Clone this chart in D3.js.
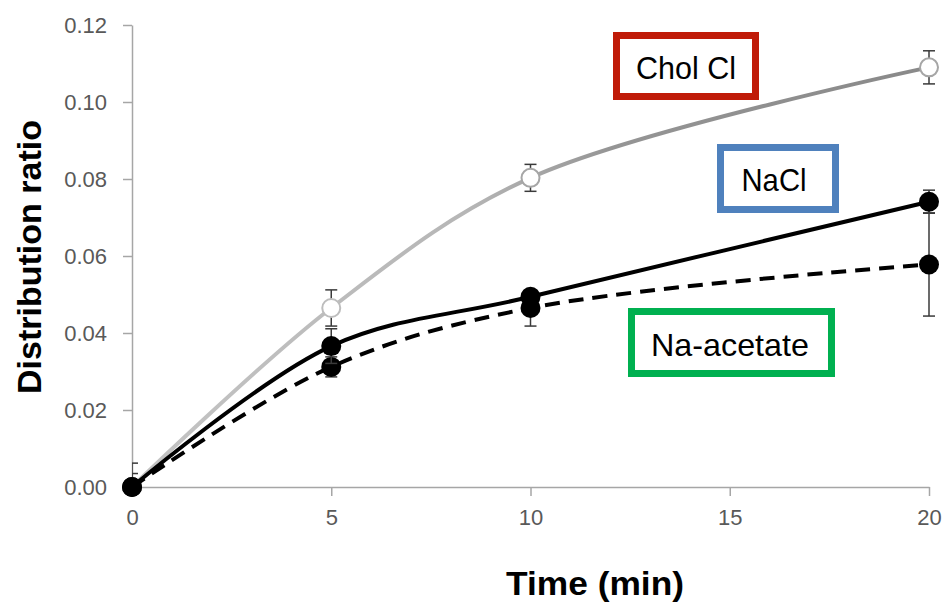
<!DOCTYPE html>
<html><head><meta charset="utf-8">
<script src="https://cdn.jsdelivr.net/npm/d3@7"></script>
<style>body{margin:0;background:#fff}</style>
</head><body>
<svg id="c" width="944" height="605"></svg>
<script>
const times = [0, 5, 10, 20];
const xTicks = [0, 5, 10, 15, 20];
const yTicks = [0, 0.02, 0.04, 0.06, 0.08, 0.10, 0.12];
const cholCl = [0, 0.0465, 0.0803, 0.1090];
const cholClErr = [0, 0.0047, 0.0035, 0.0043];
const naCl = [0, 0.0366, 0.0494, 0.0741];
const naClErr = [0.0035, 0.0045, 0.0015, 0.0030];
const naAcetate = [0, 0.0312, 0.0465, 0.0578];
const naAcetateErr = [0.0062, 0.0026, 0.0047, 0.0134];
const labels = ["Chol Cl", "NaCl", "Na-acetate"];

const svg = d3.select("#c");
const x = d3.scaleLinear().domain([0, 20]).range([132, 929]);
const y = d3.scaleLinear().domain([0, 0.12]).range([487, 25]);

const defs = svg.append("defs");
const grad = defs.append("linearGradient").attr("id", "gg")
  .attr("gradientUnits", "userSpaceOnUse")
  .attr("x1", x(0)).attr("x2", x(20)).attr("y1", 0).attr("y2", 0);
[[0, "#c4c4c4"], [0.42, "#b6b6b6"], [0.6, "#959595"], [1, "#898989"]]
  .forEach(([o, c]) => grad.append("stop").attr("offset", o).attr("stop-color", c));
defs.append("clipPath").attr("id", "plot").append("rect")
  .attr("x", 132).attr("y", 0).attr("width", 812).attr("height", 487);

// axes
const yAxis = svg.append("g").attr("transform", `translate(${x(0)},0)`)
  .call(d3.axisLeft(y).tickValues(yTicks).tickFormat(d3.format(".2f")).tickSize(9).tickSizeOuter(0));
const xAxis = svg.append("g").attr("transform", `translate(0,${y(0)})`)
  .call(d3.axisBottom(x).tickValues(xTicks).tickFormat(d3.format("d")).tickSize(9).tickSizeOuter(0));
[yAxis, xAxis].forEach(a => {
  a.select(".domain").attr("stroke", "#a6a6a6").attr("stroke-width", 1.5);
  a.selectAll(".tick line").attr("stroke", "#a6a6a6").attr("stroke-width", 1.5);
  a.selectAll("text").attr("fill", "#595959").attr("font-family", "Liberation Sans, Arial, sans-serif").attr("font-size", 22);
});
yAxis.selectAll("text").attr("x", -25);
xAxis.selectAll(".tick").filter(d => d === 0).select("line").remove();
xAxis.selectAll("text").attr("y", 22);

// axis titles
svg.append("text").attr("x", 595).attr("y", 595).attr("text-anchor", "middle")
  .attr("font-family", "Liberation Sans, Arial, sans-serif").attr("font-weight", "bold")
  .attr("font-size", 33).attr("fill", "#000").attr("textLength", 178).attr("lengthAdjust", "spacingAndGlyphs")
  .text("Time (min)");
svg.append("text").attr("transform", "translate(41,257) rotate(-90)").attr("text-anchor", "middle")
  .attr("font-family", "Liberation Sans, Arial, sans-serif").attr("font-weight", "bold")
  .attr("font-size", 34).attr("fill", "#000").text("Distribution ratio");

const line = d3.line().x((d, i) => x(times[i])).y(d => y(d)).curve(d3.curveCatmullRom.alpha(0.5));

function errBars(vals, errs) {
  const g = svg.append("g").attr("clip-path", "url(#plot)")
    .attr("stroke", "#3a3a3a").attr("stroke-width", 1.5).attr("fill", "none");
  vals.forEach((v, i) => {
    if (!errs[i]) return;
    const cx = x(times[i]), t = y(v + errs[i]), b = y(v - errs[i]);
    g.append("line").attr("x1", cx).attr("x2", cx).attr("y1", t).attr("y2", Math.min(b, y(0)));
    g.append("line").attr("x1", cx - 6).attr("x2", cx + 6).attr("y1", t).attr("y2", t);
    if (v - errs[i] >= 0) g.append("line").attr("x1", cx - 6).attr("x2", cx + 6).attr("y1", b).attr("y2", b);
  });
}

// Chol Cl
errBars(cholCl, cholClErr);
svg.append("path").datum(cholCl).attr("d", line).attr("fill", "none")
  .attr("stroke", "url(#gg)").attr("stroke-width", 4);
svg.append("g").selectAll("circle").data(cholCl).join("circle")
  .attr("cx", (d, i) => x(times[i])).attr("cy", d => y(d)).attr("r", 9)
  .attr("fill", "#fff").attr("stroke", (d, i) => i < 2 ? "#bdbdbd" : "#a6a6a6").attr("stroke-width", 2);

// Na-acetate
errBars(naAcetate, naAcetateErr);
svg.append("path").datum(naAcetate).attr("d", line).attr("fill", "none")
  .attr("stroke", "#000").attr("stroke-width", 4).attr("stroke-dasharray", "15,9");
svg.append("g").selectAll("circle").data(naAcetate).join("circle")
  .attr("cx", (d, i) => x(times[i])).attr("cy", d => y(d)).attr("r", 10).attr("fill", "#000");

// NaCl
errBars(naCl, naClErr);
svg.append("path").datum(naCl).attr("d", line).attr("fill", "none")
  .attr("stroke", "#000").attr("stroke-width", 4);
svg.append("g").selectAll("circle").data(naCl).join("circle")
  .attr("cx", (d, i) => x(times[i])).attr("cy", d => y(d)).attr("r", 10).attr("fill", "#000");

// label boxes
const boxes = [
  {x: 616.5, y: 35.5, w: 139, h: 61, c: "#c01b08", tx: 686, ty: 79, tl: 100},
  {x: 720.5, y: 147.5, w: 115, h: 62, c: "#4f81bd", tx: 774, ty: 191, tl: 65},
  {x: 631.5, y: 311.5, w: 200, h: 62, c: "#00b050", tx: 730, ty: 356, tl: 158}
];
boxes.forEach((b, i) => {
  svg.append("rect").attr("x", b.x).attr("y", b.y).attr("width", b.w).attr("height", b.h)
    .attr("fill", "#fff").attr("stroke", b.c).attr("stroke-width", 7);
  svg.append("text").attr("x", b.tx).attr("y", b.ty).attr("text-anchor", "middle")
    .attr("font-family", "Liberation Sans, Arial, sans-serif").attr("font-size", 32)
    .attr("fill", "#000").attr("textLength", b.tl).attr("lengthAdjust", "spacingAndGlyphs")
    .text(labels[i]);
});
</script>
</body></html>
